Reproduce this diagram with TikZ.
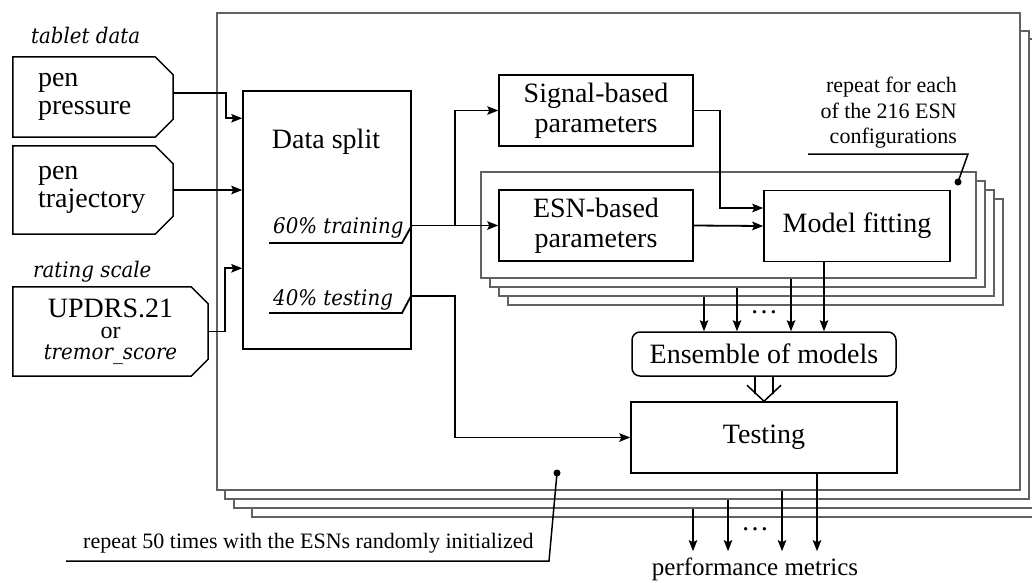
\documentclass[tikz,border=0pt]{standalone}
\usepackage{fontspec}
\setmainfont{Liberation Serif}
\newfontfamily\itf{DejaVu Serif}[FakeStretch=0.92]
\usetikzlibrary{arrows.meta,calc}

% chamfered input tag drawn round a node
\newcommand\tagoutline[2]{%
  \draw[line width=1.5pt] (#1.north west) -- ([xshift=-#2]#1.north east)
    -- ([yshift=-#2]#1.north east) -- ([yshift=#2]#1.south east)
    -- ([xshift=-#2]#1.south east) -- (#1.south west) -- cycle;}

\begin{document}
\begin{tikzpicture}[x=1pt,y=-1pt,
  txt/.style={font=\fontsize{28}{28}\selectfont},
  box/.style={draw, line width=1.5pt, inner sep=0pt, fill=white,
              font=\fontsize{28}{30}\selectfont, align=center},
  tagbox/.style={inner sep=0pt, font=\fontsize{28}{28}\selectfont},
  framebox/.style={draw=black!62, fill=white, line width=1.8pt, inner sep=0pt},
  wire/.style={line width=1.8pt},
  arr/.style={wire, -{Stealth[length=11pt,width=8.5pt,inset=2pt]}},
  itlab/.style={font=\itf\itshape\fontsize{21.5}{21.5}\selectfont, inner sep=0pt},
  note/.style={font=\fontsize{22}{25.5}\selectfont, inner sep=0pt},
  pindot/.style={circle, fill, inner sep=0pt, minimum size=7pt},
]
\useasboundingbox (0,0) rectangle (1032,582);

% ---- outer stack: repeated runs ----
\node[framebox, minimum width=795pt, minimum height=469pt] (run3) at (649.5,282.5) {};
\node[framebox, minimum width=804pt, minimum height=469pt] (run2) at (636,273.5) {};
\node[framebox, minimum width=804pt, minimum height=468pt] (run1) at (627,265) {};
\node[framebox, minimum width=803pt, minimum height=477pt] (run0) at (618.5,251.5) {};

% ---- inner stack: ESN configurations ----
\foreach \k in {3,2,1,0}
  \node[framebox, minimum width=495pt, minimum height=106pt] (cfg\k)
    at ({728.5+9*\k},{225+9*\k}) {};

% ---- inputs ----
\node[itlab, anchor=base west] (tabletlab) at (31,43) {tablet data};
\node[tagbox, minimum width=160pt, minimum height=80pt, text width=110pt, align=left]
  (pp) at (93,97) {pen\\pressure};
\tagoutline{pp}{18pt}
\node[tagbox, minimum width=160pt, minimum height=88pt, text width=110pt, align=left]
  (pt) at (93,190) {pen\\trajectory};
\tagoutline{pt}{18pt}
\node[itlab, anchor=base west] (ratinglab) at (33,277) {rating scale};
\node[tagbox, minimum width=195pt, minimum height=89pt, align=center,
      font=\fontsize{28}{21}\selectfont]
  (rs) at (110.5,331.5) {UPDRS.21\\{\fontsize{24}{21}\selectfont or}\\{\itf\itshape\fontsize{21.5}{20}\selectfont tremor\_score}};
\tagoutline{rs}{17pt}

% ---- processing boxes ----
\node[box, minimum width=168pt, minimum height=258pt] (split) at (327,220) {};
\node[txt, anchor=base, inner sep=0pt] (splitname) at (326,148) {Data split};
\node[box, minimum width=194pt, minimum height=71pt] (sig) at (596,110.5) {Signal-based\\parameters};
\node[box, minimum width=194pt, minimum height=71pt] (esn) at (596,225.5) {ESN-based\\parameters};
\node[box, minimum width=186pt, minimum height=71pt] (fit) at (857,226) {Model fitting};
\node[box, rounded corners=8pt, minimum width=264pt, minimum height=44pt] (ens) at (764,354) {Ensemble of models};
\node[box, minimum width=266pt, minimum height=71pt] (tst) at (764,437.5) {Testing};

% ---- split outputs ----
\node[itlab, anchor=base west] (trainlab) at (273,233) {60\% training};
\node[itlab, anchor=base west] (testlab) at (273,305) {40\% testing};
\coordinate (trainend) at (split.east |- esn.west);
\coordinate (testend) at (411,296);
\coordinate (fork) at (455,226);
\draw[wire] (269,243) -- (402,243) -- (trainend);
\draw[wire] (269,313) -- (402,313) -- (testend);
\draw[arr] (trainend) -- (esn.west);
\draw[arr] (fork) |- (sig.west);
\draw[arr] (testend) -- (455,296) |- (tst.west);

% ---- inputs into the split ----
\draw[arr] ([yshift=4pt]pp.east) -- ++(53,0) |- ([yshift=-28pt]split.north west);
\draw[arr] (pt.east) -- (split.west |- pt.east);
\draw[arr] (rs.east) -- ++(17,0) |- ([yshift=-178pt]split.north west);

% ---- feature sets into model fitting ----
\draw[arr] (sig.east) -- ++(26,0) |- ([yshift=18pt]fit.west);
\draw[arr] (esn.east) -- (fit.west);

% ---- fitted models into the ensemble ----
\coordinate (e1) at ([xshift=-60pt]ens.north);
\coordinate (e2) at ([xshift=-27pt]ens.north);
\coordinate (e3) at ([xshift=27pt]ens.north);
\coordinate (e4) at ([xshift=60pt]ens.north);
\draw[arr] (e1 |- cfg2.south) -- (e1);
\draw[arr] (e2 |- cfg1.south) -- (e2);
\draw[arr] (e3 |- cfg0.south) -- (e3);
\draw[arr] (e4 |- fit.south) -- (e4);
\node[txt, inner sep=0pt] (moredots) at (764,312) {…};

% ---- hollow arrow ensemble -> testing ----
\draw[line width=1.5pt] ([xshift=-9pt]ens.south) -- ([xshift=-9pt,yshift=-17.5pt]ens.south);
\draw[line width=1.5pt] ([xshift=9pt]ens.south) -- ([xshift=9pt,yshift=-17.5pt]ens.south);
\draw[line width=1.5pt] ([xshift=-17pt,yshift=16pt]tst.north) -- (tst.north) -- ([xshift=17pt,yshift=16pt]tst.north);

% ---- performance metrics ----
\node[anchor=base, inner xsep=0pt, inner ysep=6pt, font=\fontsize{25}{25}\selectfont]
  (perf) at (755,575) {performance metrics};
\coordinate (o1) at ([xshift=-71pt]tst.south);
\coordinate (o2) at ([xshift=-36pt]tst.south);
\coordinate (o3) at ([xshift=18pt]tst.south);
\coordinate (o4) at ([xshift=53pt]tst.south);
\draw[arr] (o1 |- run2.south) -- (o1 |- perf.north);
\draw[arr] (o2 |- run1.south) -- (o2 |- perf.north);
\draw[arr] (o3 |- run0.south) -- (o3 |- perf.north);
\draw[arr] (o4) -- (o4 |- perf.north);
\node[txt, inner sep=0pt] (outdots) at (755,529) {…};

% ---- repetition notes ----
\node[note, anchor=north east, align=right] (cfgnote) at (957,77)
  {repeat for each\\of the 216 ESN\\configurations};
\node[pindot] (cfgdot) at (958,182) {};
\draw[wire, line width=1.5pt] (808,154) -- (968,154) -- (cfgdot.center);

\node[note, anchor=base west] (runnote) at (83,548)
  {repeat 50 times with the ESNs randomly initialized};
\node[pindot] (rundot) at (557,473) {};
\draw[wire, line width=1.5pt] (66,561) -- (549,561) -- (rundot.center);
\end{tikzpicture}
\end{document}
